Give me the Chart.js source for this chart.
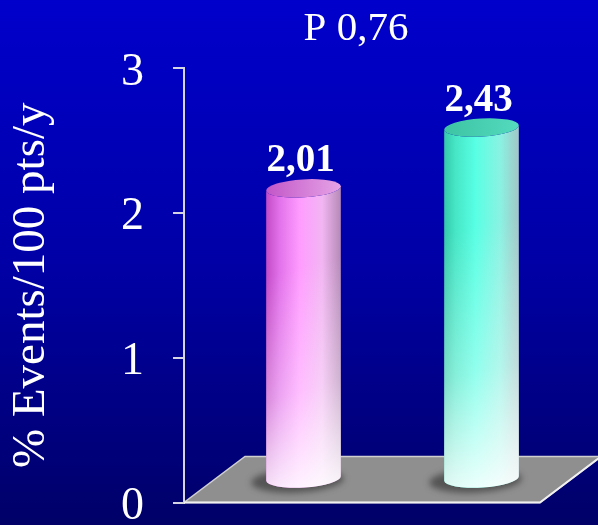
<!DOCTYPE html>
<html>
<head>
<meta charset="utf-8">
<script src="https://cdn.jsdelivr.net/npm/chart.js@4"></script>
<style>
  html, body { margin: 0; padding: 0; background: #000080; }
  canvas { display: block; }
</style>
</head>
<body>
<canvas id="chart" width="598" height="525"></canvas>
<script>
// ---- data ----
const categories = ['1', '2'];
const eventRates = [2.01, 2.43];
const yTicks = [0, 1, 2, 3];
const pValueText = 'P 0,76';
const yAxisTitle = '% Events/100 pts/y';

// ---- styling ----
const SERIF = "'Liberation Serif', 'Times New Roman', serif";
const DEPTH_X = 61;   // horizontal depth of the floor
const DEPTH_Y = 46;   // vertical depth of the floor
const AXIS_COLOR = '#d4d4e4';
const palettes = [
  { body: [[0, '#c24ac6'], [0.18, '#e272ea'], [0.45, '#ff9cff'], [0.75, '#f2b6f2'], [1, '#b48ab6']],
    cap: ['#c256c8', '#e6a4e6'] },
  { body: [[0, '#34c8aa'], [0.15, '#46e6c6'], [0.42, '#58ffe4'], [0.75, '#8af2e2'], [1, '#a2c6c6']],
    cap: ['#3cc4a4', '#54dabe'] }
];

const fmt = v => v.toFixed(2).replace('.', ',');

// gradient backdrop
const backdrop = {
  id: 'backdrop',
  beforeDraw(chart) {
    const { ctx, width, height } = chart;
    const g = ctx.createLinearGradient(0, 0, 0, height);
    g.addColorStop(0, '#0000cc');
    g.addColorStop(0.5, '#0000a6');
    g.addColorStop(1, '#000068');
    ctx.save();
    ctx.fillStyle = g;
    ctx.fillRect(0, 0, width, height);
    ctx.restore();
  }
};

// grey floor plus the shadows of the columns
const floor = {
  id: 'floor',
  beforeDatasetsDraw(chart) {
    const { ctx, chartArea } = chart;
    const y0 = chart.scales.y.getPixelForValue(0);
    const l = chartArea.left, r = chartArea.right;
    ctx.save();
    ctx.beginPath();
    ctx.moveTo(l, y0);
    ctx.lineTo(r, y0);
    ctx.lineTo(r + DEPTH_X, y0 - DEPTH_Y);
    ctx.lineTo(l + DEPTH_X, y0 - DEPTH_Y);
    ctx.closePath();
    ctx.fillStyle = '#8f8f8f';
    ctx.fill();
    ctx.strokeStyle = '#d0d0d0';
    ctx.lineWidth = 1.5;
    ctx.stroke();
    ctx.beginPath();
    ctx.moveTo(l, y0);
    ctx.lineTo(r, y0);
    ctx.lineTo(r + DEPTH_X, y0 - DEPTH_Y);
    ctx.strokeStyle = '#f0f0f0';
    ctx.lineWidth = 2;
    ctx.stroke();

    // soft shadows
    const meta = chart.getDatasetMeta(0);
    meta.data.forEach(bar => {
      const cx = bar.x + DEPTH_X / 2;
      const by = bar.base - DEPTH_Y / 2;
      const rx = bar.width / 2;
      ctx.save();
      ctx.filter = 'blur(3px)';
      ctx.beginPath();
      ctx.ellipse(cx - 6, by + 2, rx + 9, 12, -0.05, 0, Math.PI * 2);
      ctx.fillStyle = 'rgba(45,45,45,0.6)';
      ctx.fill();
      ctx.restore();
    });
    ctx.restore();
  }
};

function drawCylinder(ctx, cx, topY, baseY, rx, ry, pal) {
  const rot = -0.06;
  const c = Math.cos(rot), s = Math.sin(rot);
  const path = () => {
    ctx.beginPath();
    ctx.moveTo(cx - rx * c, topY - rx * s);
    ctx.lineTo(cx - rx * c, baseY - rx * s);
    ctx.ellipse(cx, baseY, rx, ry, rot, Math.PI, 0, true);
    ctx.lineTo(cx + rx * c, topY + rx * s);
    ctx.ellipse(cx, topY, rx, ry, rot, 0, Math.PI, false);
    ctx.closePath();
  };
  // body
  const g = ctx.createLinearGradient(cx - rx, 0, cx + rx, 0);
  pal.body.forEach(([o, col]) => g.addColorStop(o, col));
  path();
  ctx.fillStyle = g;
  ctx.fill();
  // light towards the foot
  const h = baseY - topY;
  const w = ctx.createLinearGradient(cx - rx, topY + h * 0.3, cx + rx * 0.5, baseY + ry);
  w.addColorStop(0, 'rgba(255,255,255,0)');
  w.addColorStop(0.55, 'rgba(255,255,255,0.35)');
  w.addColorStop(1, 'rgba(255,255,255,0.9)');
  path();
  ctx.fillStyle = w;
  ctx.fill();
  // cap
  const cg = ctx.createLinearGradient(cx - rx, 0, cx + rx, 0);
  cg.addColorStop(0, pal.cap[0]);
  cg.addColorStop(1, pal.cap[1]);
  ctx.beginPath();
  ctx.ellipse(cx, topY, rx, ry, rot, 0, Math.PI * 2);
  ctx.fillStyle = cg;
  ctx.fill();
}

// columns drawn as cylinders standing in the middle of the floor
const cylinders = {
  id: 'cylinders',
  afterDatasetsDraw(chart) {
    const { ctx } = chart;
    const meta = chart.getDatasetMeta(0);
    ctx.save();
    meta.data.forEach((bar, i) => {
      const cx = bar.x + DEPTH_X / 2;
      const topY = bar.y - DEPTH_Y / 2;
      const baseY = bar.base - DEPTH_Y / 2;
      drawCylinder(ctx, cx, topY, baseY, bar.width / 2, 9, palettes[i]);
      ctx.fillStyle = '#ffffff';
      ctx.font = 'bold 39px ' + SERIF;
      ctx.textAlign = 'center';
      ctx.textBaseline = 'alphabetic';
      ctx.fillText(fmt(eventRates[i]), cx - 3, topY - 17);
    });
    ctx.restore();
  }
};

// p-value heading
const heading = {
  id: 'heading',
  afterDraw(chart) {
    const { ctx, chartArea } = chart;
    ctx.save();
    ctx.fillStyle = '#ffffff';
    ctx.font = '41px ' + SERIF;
    ctx.textAlign = 'center';
    ctx.textBaseline = 'alphabetic';
    ctx.fillText(pValueText, (chartArea.left + chartArea.right) / 2 - 6, 40);
    ctx.restore();
  }
};

new Chart(document.getElementById('chart'), {
  type: 'bar',
  data: {
    labels: categories,
    datasets: [{
      data: eventRates,
      backgroundColor: 'rgba(0,0,0,0)',
      borderWidth: 0,
      barPercentage: 0.42,
      categoryPercentage: 1
    }]
  },
  options: {
    responsive: false,
    animation: false,
    devicePixelRatio: 1,
    layout: { padding: { top: 68, right: 58, bottom: 22.5, left: 0 } },
    plugins: {
      legend: { display: false },
      tooltip: { enabled: false },
      title: { display: false }
    },
    scales: {
      x: { display: false },
      y: {
        min: 0,
        max: 3,
        afterBuildTicks: s => { s.ticks = yTicks.map(v => ({ value: v })); },
        afterFit: s => { s.width = 184; s.paddingTop = 0; s.paddingBottom = 0; },
        ticks: {
          color: '#ffffff',
          font: { family: SERIF, size: 46 },
          padding: 29,
          labelOffset: 4.5
        },
        grid: {
          drawOnChartArea: false,
          drawTicks: true,
          tickLength: 11,
          color: AXIS_COLOR,
          lineWidth: 2
        },
        border: { display: true, color: AXIS_COLOR, width: 2 },
        title: {
          display: true,
          text: yAxisTitle,
          color: '#ffffff',
          font: { family: SERIF, size: 47, lineHeight: 1.2 },
          padding: { top: 3, bottom: 0 }
        }
      }
    }
  },
  plugins: [backdrop, floor, cylinders, heading]
});
</script>
</body>
</html>
